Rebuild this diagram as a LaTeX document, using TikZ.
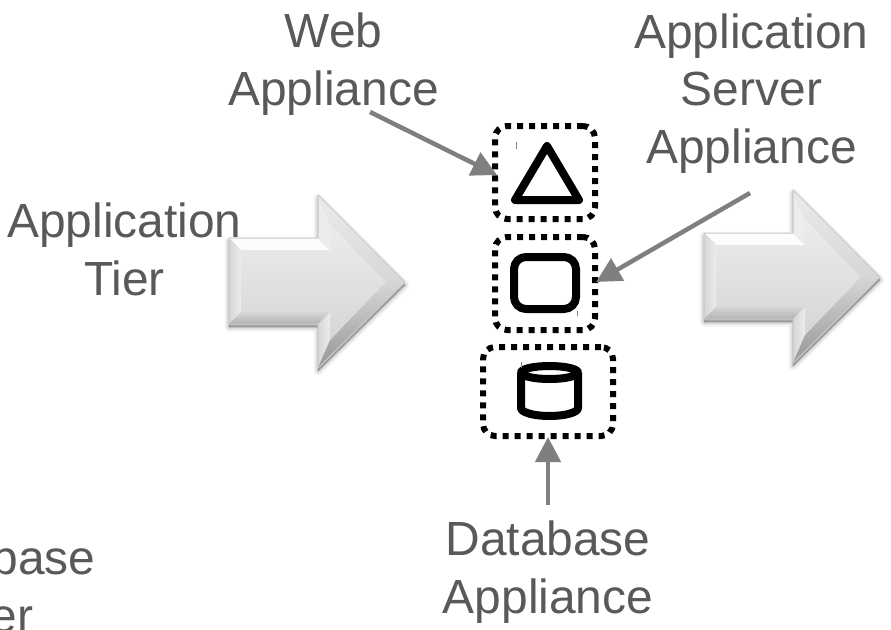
\documentclass[tikz,border=0pt]{standalone}
\usepackage{fontspec}
\setmainfont{Liberation Sans}
\usetikzlibrary{arrows.meta}
\definecolor{txt}{RGB}{89,89,89}
\definecolor{conn}{RGB}{127,127,127}
\definecolor{bvA}{RGB}{252,252,252}
\definecolor{bvB}{RGB}{236,236,236}
\definecolor{bvC}{RGB}{214,214,214}
\definecolor{bvD}{RGB}{178,178,178}
\definecolor{bvE}{RGB}{150,150,150}
\tikzset{
  lbl/.style={text=txt,align=center,inner sep=0pt,font=\fontsize{47.9}{57.5}\selectfont,anchor=base},
  dotbox/.style={draw=black,line width=6pt,dash pattern=on 6pt off 6pt,rounded corners=12pt,inner sep=0pt,fill=none},
  glyph/.style={draw=black,line width=8pt,line join=round},
  conn/.style={draw=conn,line width=4.5pt,-{Triangle[length=25pt,width=25pt]}},
  tick/.style={draw=gray,line width=.8pt},
}
\newcommand{\bevelarrow}[2]{%
  \begin{scope}[shift={(#1,#2)}]
    \foreach \o/\a in {9/.04,6/.06,3/.08,1/.10}{
      \fill[black,opacity=\a,yshift=-3pt,draw=black,line width=\o pt,line join=round]
        (229,238)--(318,238)--(318,195)--(405,282)--(318,368)--(318,324)--(229,324)--cycle;
    }
    % top of shaft
    \fill[bvA] (229,238)--(318,238)--(330,250)--(241,250)--cycle;
    % left of shaft
    \shade[left color=bvC,right color=bvB] (229,238)--(241,250)--(241,312)--(229,324)--cycle;
    % bottom of shaft
    \shade[top color=bvC,bottom color=bvD] (229,324)--(241,312)--(330,312)--(318,324)--cycle;
    % back of the head, upper and lower
    \fill[bvB] (318,238)--(318,195)--(330,224)--(330,250)--cycle;
    \shade[left color=bvC,right color=bvB] (318,324)--(318,368)--(330,340)--(330,312)--cycle;
    % slanted faces of the head
    \shade[shading angle=45,top color=bvB,bottom color=bvC] (318,195)--(405,282)--(386,282)--(330,224)--cycle;
    \shade[shading angle=-45,top color=bvC,bottom color=bvE] (405,282)--(318,368)--(330,340)--(386,282)--cycle;
    % face
    \shade[top color=bvB,bottom color=bvC]
      (241,250)--(330,250)--(330,224)--(386,282)--(330,340)--(330,312)--(241,312)--cycle;
    \draw[bvD!70!white,line width=1pt,line join=round]
      (229,238)--(318,238)--(318,195)--(405,282)--(318,368)--(318,324)--(229,324)--cycle;
  \end{scope}
}
\begin{document}
\begin{tikzpicture}[x=1pt,y=-1pt]
  \useasboundingbox (0,0) rectangle (891,629);
  \clip (0,0) rectangle (891,629);
  \bevelarrow{0}{0}
  \bevelarrow{475}{-5}

  \node[lbl] (weblabel) at (333.5,105) {Web\\Appliance};
  \node[lbl] (serverlabel) at (751.5,163) {Application\\Server\\Appliance};
  \node[lbl] (tierlabel) at (124.5,295) {Application\\Tier};
  \node[lbl] (dblabel) at (548,613) {Database\\Appliance};
  \node[lbl] (dbtier) at (-7,632) {Database\\Tier};

  \node[dotbox,minimum width=100pt,minimum height=93pt] (webbox) at (545,172.5) {};
  \node[dotbox,minimum width=100pt,minimum height=93pt] (appbox) at (545,283.5) {};
  \node[dotbox,minimum width=130pt,minimum height=89pt] (dbbox) at (548,391.5) {};

  % glyphs
  \draw[glyph] (547,146)--(515,200)--(579,200)--cycle;
  \draw[glyph,rounded corners=12pt] (514,257) rectangle (576,309);
  \draw[glyph] (549.5,372.5) ellipse[x radius=28.5,y radius=6.5];
  \draw[glyph] (521,372.5)--(521,408) arc[start angle=180,end angle=0,x radius=28.5,y radius=8] --(578,372.5);

  % small stray ticks
  \draw[tick] (516,142)--(516,149);
  \draw[tick] (521,362)--(521,368);
  \draw[tick] (577,311)--(577,316);

  % connectors
  \coordinate (webstart) at (370,112);
  \coordinate (appstart) at (750,193);
  \coordinate (dbstart) at (548,505);
  \draw[conn] (webstart) -- ([xshift=5pt,yshift=-2.5pt]webbox.west);
  \draw[conn] (appstart) -- ([xshift=-2pt,yshift=1.5pt]appbox.east);
  \draw[conn] (dbstart) -- ([yshift=2pt]dbbox.south);
\end{tikzpicture}
\end{document}
